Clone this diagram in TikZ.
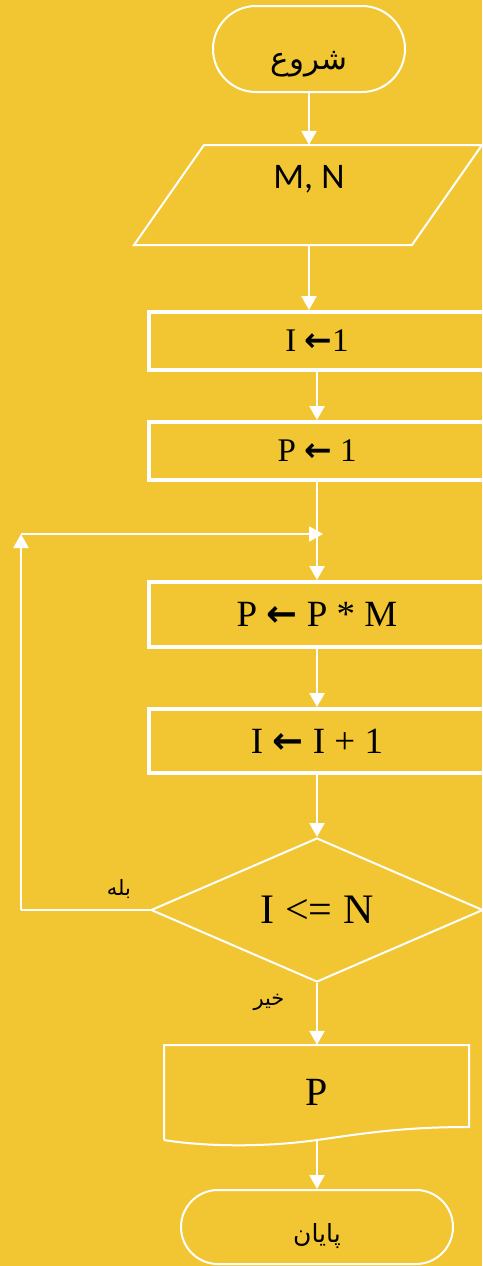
\documentclass[tikz,border=0pt]{standalone}
\usepackage{fontspec}
\setmainfont{Liberation Serif}
\newfontfamily\arabicfont[Script=Arabic]{DejaVu Sans}
\newfontfamily\calib{Carlito}
\newfontfamily\djv{DejaVu Sans}
\TeXXeTstate=1
\usetikzlibrary{arrows.meta,shapes.geometric}
\definecolor{bg}{RGB}{242,198,50}
\newcommand{\la}{{\djv\bfseries ←}}
\begin{document}
\begin{tikzpicture}[x=1pt,y=-1pt,
  wl/.style={draw=white, line width=2.6pt},
  arr/.style={wl, -{Triangle[width=15pt,length=14pt]}},
  term/.style={draw=white, line width=2pt, inner sep=0pt},
  procbox/.style={draw=white, line width=4pt, minimum width=336pt, inner sep=0pt, text=black},
  thin/.style={draw=white, line width=2pt}]
\fill[bg] (0,0) rectangle (482,1266);
\useasboundingbox (0,0) rectangle (482,1266);

% start terminator
\node[term, rounded corners=43pt, minimum width=192pt, minimum height=86pt,
  font=\fontsize{31}{34}\selectfont] (start) at (309,49) {\smash{\raisebox{-20pt}{\arabicfont\beginR شروع\endR}}};

% input parallelogram
\draw[thin] (134,245) -- (204,145) -- (482,145) -- (412,245) -- cycle;
\node[minimum width=277pt, minimum height=100pt, inner sep=0pt,
  font=\calib\fontsize{36}{40}\selectfont] (io) at (309,195) {\smash{\raisebox{7pt}{M, N}}};

% process boxes
\node[procbox, minimum height=58pt, font=\fontsize{33}{38}\selectfont] (b1) at (317,341) {I \la1};
\node[procbox, minimum height=58pt, font=\fontsize{33}{38}\selectfont] (b2) at (317,451) {P \la\ 1};
\node[procbox, minimum height=65pt, font=\fontsize{37}{42}\selectfont] (b3) at (317,614.5) {P \la\ P * M};
\node[procbox, minimum height=64pt, font=\fontsize{37}{42}\selectfont] (b4) at (317,741) {I \la\ I + 1};

% decision
\node[diamond, thin, aspect=2.3, minimum width=332pt, minimum height=144pt, inner sep=0pt,
  font=\fontsize{42}{46}\selectfont] (dec) at (317,910) {I <= N};

% output document
\node[minimum width=305pt, minimum height=95pt, inner sep=0pt,
  font=\fontsize{40}{44}\selectfont] (doc) at (317,1092.5) {P};
\draw[thin] (164,1140) -- (164,1045) -- (469,1045) -- (469,1127)
  .. controls (400,1127) and (360,1134) .. (317,1140)
  .. controls (260,1148) and (200,1146) .. (164,1140);

% end terminator
\node[term, rounded corners=37pt, minimum width=272pt, minimum height=74pt,
  font=\fontsize{25}{28}\selectfont] (end) at (317,1227) {\smash{\raisebox{-15pt}{\arabicfont\beginR پایان\endR}}};

% coordinates of the loop
\coordinate (cJ) at (317,534);
\coordinate (cJtip) at (323,534);
\coordinate (cTL) at (21,534);
\coordinate (cBL) at (21,910);

% connectors
\draw[arr] (start.south) -- (start.south |- io.north);
\draw[arr] (io.south) -- (io.south |- b1.north);
\draw[arr] (b1.south) -- (b2.north);
\draw[wl] (b2.south) -- (cJ);
\draw[arr] (cJ) -- (b3.north);
\draw[arr] (b3.south) -- (b4.north);
\draw[arr] (b4.south) -- (dec.north);
\draw[arr] (dec.south) -- (doc.north);
\draw[arr] (doc.south) -- (end.north);
\draw[thin] (dec.west) -- (cBL);
\draw[thin, -{Triangle[width=15pt,length=14pt]}] (cBL) -- (cTL);
\draw[thin, -{Triangle[width=15pt,length=14pt]}] (cTL) -- (cJtip);

% labels
\node[font=\fontsize{21}{24}\selectfont] (yes) at (119,889) {\arabicfont\beginR بله\endR};
\node[font=\fontsize{21}{24}\selectfont] (no) at (269,1002) {\arabicfont\beginR خیر\endR};
\end{tikzpicture}
\end{document}
